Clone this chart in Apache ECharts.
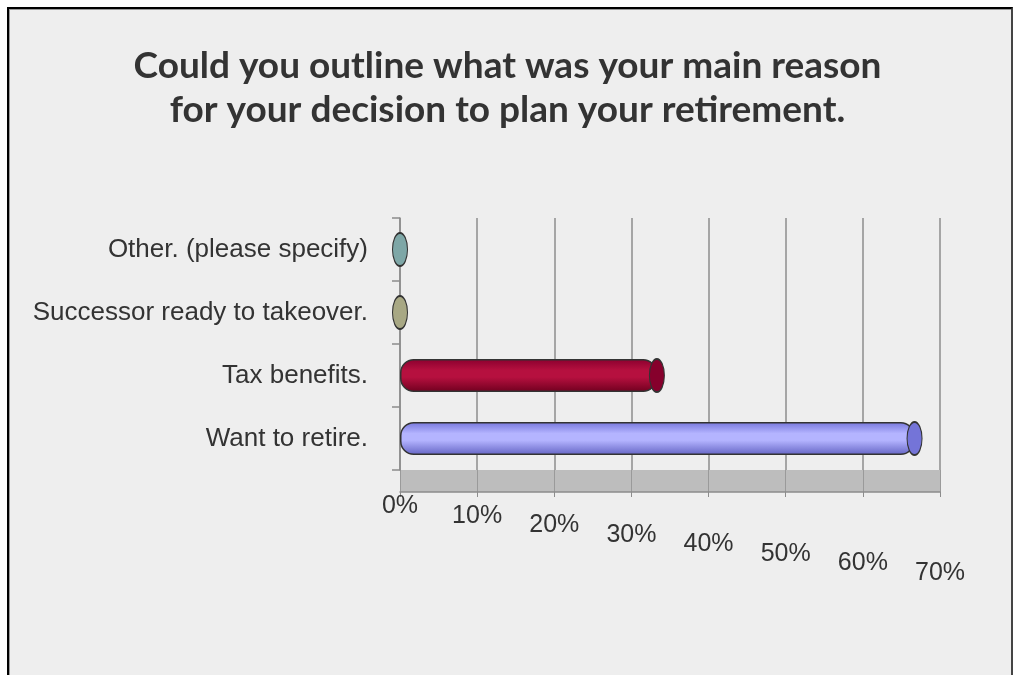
<!DOCTYPE html>
<html>
<head>
<meta charset="utf-8">
<script src="https://cdn.jsdelivr.net/npm/echarts@6/dist/echarts.min.js"></script>
<style>
  html, body { margin: 0; padding: 0; background: #ffffff; overflow: hidden; }
  .frame {
    position: absolute; left: 7px; top: 7px; width: 1002px; height: 700px;
    background: #eeeeee;
    border-left: 2px solid #000; border-top: 2px solid #000; border-right: 2px solid #444;
    box-shadow: inset 1px 1px 0 #999;
  }
  #main { position: absolute; left: 0; top: 0; width: 1015px; height: 675px; }
</style>
</head>
<body>
<div class="frame"></div>
<div id="main"></div>
<script>
  // bottom to top, as the category axis draws them
  const categories = ['Want to retire.', 'Tax benefits.', 'Successor ready to takeover.', 'Other. (please specify)'];
  const values = [66.7, 33.3, 0, 0];
  const xTicks = [0, 10, 20, 30, 40, 50, 60, 70];

  const titleText = 'Could you outline what was your main reason\nfor your decision to plan your retirement.';

  // cylinder shading: edge, highlight, edge
  const barShades = [
    ['#7676dc', '#b4b4ff', '#6464c4'],
    ['#8a002e', '#b6103f', '#70001f'],
    ['#9c9c78', '#b4b490', '#8a8a66'],
    ['#6f9a9a', '#90b8b8', '#5f8888']
  ];
  const capColors = ['#7474d8', '#86002c', '#a8a884', '#7ea7a7'];

  const labelFont = '"Liberation Sans", Arial, sans-serif';

  const shade = (c) => new echarts.graphic.LinearGradient(0, 0, 0, 1, [
    {offset: 0, color: c[0]},
    {offset: 0.35, color: c[1]},
    {offset: 0.55, color: c[1]},
    {offset: 1, color: c[2]}
  ]);

  // tick labels step down like on the tilted floor
  const rich = {};
  xTicks.forEach((t, i) => {
    rich['s' + i] = {fontSize: 25, color: '#333', fontFamily: labelFont, padding: [i * 9.5, 0, 0, 0]};
  });

  const chart = echarts.init(document.getElementById('main'));
  chart.setOption({
    backgroundColor: 'transparent',
    animation: false,
    title: {
      text: titleText,
      left: 'center',
      top: 39,
      textStyle: {fontFamily: 'Lato, "Open Sans", sans-serif', fontWeight: 'bold', fontSize: 37, color: '#333', lineHeight: 44}
    },
    grid: [
      {left: 400, right: 75, top: 218, height: 252},
      {left: 400, right: 75, top: 470, height: 22, show: true, backgroundColor: '#bdbdbd', borderWidth: 0}
    ],
    xAxis: [
      {
        type: 'value', gridIndex: 0, min: xTicks[0], max: xTicks[xTicks.length - 1], interval: 10,
        axisLine: {show: false}, axisTick: {show: false}, axisLabel: {show: false},
        splitLine: {show: true, lineStyle: {color: '#8c8c8c', width: 1.5}}
      },
      {
        type: 'value', gridIndex: 1, min: xTicks[0], max: xTicks[xTicks.length - 1], interval: 10,
        axisLine: {show: true, lineStyle: {color: '#8c8c8c', width: 1.5}},
        axisTick: {show: true, length: 5, lineStyle: {color: '#8c8c8c'}},
        splitLine: {show: true, lineStyle: {color: '#9a9a9a', width: 1}},
        axisLabel: {
          margin: 2,
          formatter: (v) => '{s' + xTicks.indexOf(v) + '|' + v + '%}',
          rich: rich
        }
      }
    ],
    yAxis: [
      {
        type: 'category', gridIndex: 0, data: categories,
        axisLine: {show: true, lineStyle: {color: '#8c8c8c', width: 1.5}},
        axisTick: {show: true, length: 8, lineStyle: {color: '#8c8c8c', width: 1.5}},
        axisLabel: {fontSize: 26, color: '#333', fontFamily: labelFont, margin: 32}
      },
      {type: 'category', gridIndex: 1, data: [''], show: false}
    ],
    series: [
      {
        type: 'bar',
        xAxisIndex: 0, yAxisIndex: 0,
        barWidth: 33,
        data: values.map((v, i) => v > 0 ? {
          value: v,
          itemStyle: {color: shade(barShades[i]), borderColor: '#333', borderWidth: 1.5, borderRadius: 13}
        } : null)
      },
      {
        type: 'scatter',
        xAxisIndex: 0, yAxisIndex: 0,
        symbol: 'circle',
        symbolSize: [15, 33],
        z: 3,
        data: values.map((v, i) => ({
          value: [v, categories[i]],
          itemStyle: {color: capColors[i], borderColor: '#333', borderWidth: 1.5, opacity: 1}
        }))
      }
    ]
  });
</script>
</body>
</html>
